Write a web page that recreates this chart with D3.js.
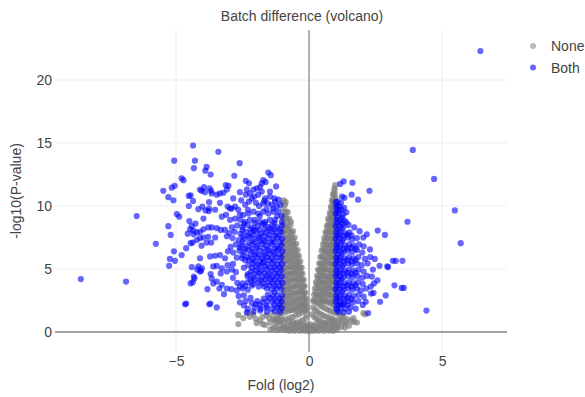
<!DOCTYPE html>
<html>
<head>
<meta charset="utf-8">
<script src="https://cdn.jsdelivr.net/npm/d3@7"></script>
<style>
  body { margin: 0; background: #fff; }
  text { font-family: "Liberation Sans", Arial, sans-serif; fill: #444; }
</style>
</head>
<body>
<div id="chart"></div>
<script>
// series names (legend order)
const categories = ["None", "Both"];
const xTicks = [-5, 0, 5];
const yTicks = [0, 5, 10, 15, 20];

// not significant: [fold (log2), -log10(p)]
const nonePoints = [
  [0.98,11.65],[0.95,11.2],[0.92,10.8],[0.99,10.6],[0.88,10.3],[0.96,10.1],[0.84,9.8],[0.93,9.7],[0.99,9.4],[0.8,9.3],
  [0.89,9.1],[0.97,8.9],[0.74,8.8],[0.83,8.6],[0.92,8.5],[0.99,8.2],[0.69,8.3],[0.78,8.1],[0.87,7.9],[0.96,7.7],
  [0.64,7.8],[0.72,7.5],[0.82,7.4],[0.91,7.2],[0.99,7.0],[0.58,7.2],[0.67,6.95],[0.76,6.8],[0.86,6.7],[0.95,6.5],
  [0.53,6.6],[0.62,6.4],[0.71,6.3],[0.8,6.1],[0.9,6.0],[0.98,5.8],[0.48,6.0],[0.57,5.8],[0.66,5.6],[0.75,5.5],
  [0.85,5.4],[0.94,5.25],[0.43,5.4],[0.52,5.2],[0.61,5.0],[0.7,4.95],[0.8,4.8],[0.89,4.7],[0.98,4.6],[0.38,4.85],
  [0.47,4.6],[0.56,4.45],[0.65,4.35],[0.75,4.2],[0.84,4.1],[0.93,4.0],[0.34,4.3],[0.42,4.05],[0.51,3.9],[0.6,3.8],
  [0.7,3.65],[0.79,3.55],[0.88,3.45],[0.97,3.35],[0.29,3.75],[0.37,3.5],[0.46,3.35],[0.55,3.2],[0.64,3.1],[0.74,3.0],
  [0.83,2.9],[0.92,2.8],[1.0,2.7],[0.24,3.15],[0.32,2.95],[0.41,2.8],[0.5,2.65],[0.59,2.5],[0.69,2.4],[0.78,2.3],
  [0.87,2.2],[0.96,2.1],[0.19,2.55],[0.27,2.35],[0.36,2.2],[0.45,2.05],[0.54,1.95],[0.64,1.85],[0.73,1.75],[0.82,1.65],
  [0.92,1.55],[1.02,1.5],[0.15,1.95],[0.23,1.75],[0.31,1.6],[0.4,1.45],[0.49,1.35],[0.58,1.25],[0.68,1.2],[0.78,1.1],
  [0.88,1.05],[0.98,0.95],[1.1,0.9],[1.22,0.8],[0.11,1.4],[0.19,1.2],[0.27,1.05],[0.36,0.95],[0.45,0.85],[0.55,0.75],
  [0.65,0.7],[0.75,0.6],[0.86,0.55],[0.97,0.5],[1.08,0.45],[1.2,0.4],[1.34,0.63],[1.15,1.3],[1.3,1.2],[1.45,1.0],
  [1.6,0.9],[1.67,1.1],[1.8,0.75],[2.04,1.5],[2.11,1.4],[1.69,0.8],[1.5,0.5],[1.35,0.35],
  [0.96,11.4],[0.9,10.95],[0.97,10.95],[0.86,10.45],[0.94,10.45],[0.82,9.95],[0.9,9.95],[0.97,9.95],[0.78,9.45],[0.86,9.45],
  [0.94,9.45],[0.72,9.0],[0.8,9.0],[0.88,9.0],[0.95,9.0],[0.67,8.45],[0.75,8.45],[0.84,8.45],[0.92,8.4],[0.62,7.95],
  [0.7,7.95],[0.79,7.95],[0.88,7.9],[0.97,7.95],[0.57,7.45],[0.66,7.45],[0.75,7.4],[0.84,7.45],[0.93,7.45],[0.52,6.95],
  [0.61,6.95],[0.7,6.9],[0.8,6.95],[0.89,6.95],[0.97,6.9],[0.47,6.45],[0.56,6.45],[0.65,6.4],[0.75,6.45],[0.84,6.45],
  [0.93,6.4],[0.42,5.95],[0.51,5.95],[0.6,5.9],[0.7,5.95],[0.79,5.95],[0.88,5.9],[0.97,5.95],[0.38,5.45],[0.47,5.45],
  [0.56,5.4],[0.65,5.45],[0.75,5.45],[0.84,5.4],[0.93,5.45],[0.34,4.95],[0.43,4.95],[0.52,4.9],[0.61,4.95],[0.71,4.95],
  [0.8,4.9],[0.9,4.95],[0.99,4.95],[0.3,4.45],[0.39,4.45],[0.48,4.4],[0.57,4.45],[0.66,4.45],[0.76,4.4],[0.85,4.45],
  [0.95,4.45],[0.26,3.95],[0.35,3.95],[0.44,3.9],[0.53,3.95],[0.62,3.95],[0.72,3.9],[0.81,3.95],[0.91,3.95],[0.99,3.9],
  [0.22,3.45],[0.31,3.45],[0.4,3.4],[0.49,3.45],[0.58,3.45],[0.68,3.4],[0.77,3.45],[0.87,3.45],[0.96,3.4],[0.19,2.95],
  [0.28,2.95],[0.37,2.9],[0.46,2.95],[0.55,2.95],[0.64,2.9],[0.74,2.95],[0.84,2.95],[0.94,2.9],[0.15,2.45],[0.24,2.45],
  [0.33,2.4],[0.42,2.45],[0.51,2.45],[0.6,2.4],[0.7,2.45],[0.8,2.45],[0.9,2.4],[1.0,2.45],
  [0.0,0.05],[0.05,0.3],[-0.05,0.3],[0.08,0.6],[-0.08,0.6],[0.12,0.2],[-0.12,0.2],[0.2,0.5],[-0.2,0.5],[0.3,0.3],
  [-0.3,0.3],[0.4,0.45],[-0.4,0.45],[0.25,0.15],[-0.25,0.15],[0.5,0.25],[-0.5,0.25],[0.6,0.35],[-0.6,0.35],[0.7,0.2],
  [-0.7,0.2],[0.85,0.3],[-0.85,0.3],[0.95,0.2],[-1.0,0.3],
  [-1.1,0.2],[-0.9,0.15],[-0.75,0.1],[-0.55,0.1],[-0.35,0.1],[-0.15,0.1],[0.15,0.1],[0.35,0.1],[0.55,0.1],[0.75,0.12],
  [0.9,0.1],[1.05,0.2],[-0.1,0.45],[0.1,0.45],[-0.3,0.6],[0.3,0.65],[-0.45,0.6],[-0.6,0.8],[-0.75,0.85],[-0.95,0.7],
  [-1.05,1.1],[-1.25,1.0],[0.45,0.55],[0.6,0.55],[0.75,0.85],[0.9,0.8],[1.1,0.65],[1.25,1.05],[1.4,0.8],[1.15,1.55],
  [-0.9,10.1],[-0.95,10.45],[-0.86,9.55],[-0.97,9.8],[-0.93,9.2],[-0.68,8.75],[-0.82,8.9],[-0.98,8.6],[-0.78,8.2],[-0.9,8.3],
  [-0.65,7.85],[-0.71,7.55],[-0.84,7.7],[-0.96,7.9],[-0.6,7.3],[-0.75,7.15],[-0.88,7.3],[-0.99,7.1],[-0.55,6.9],[-0.66,6.75],
  [-0.8,6.7],[-0.93,6.6],[-0.5,6.45],[-0.62,6.3],[-0.73,6.2],[-0.86,6.15],[-0.97,6.0],[-0.44,6.0],[-0.55,5.85],[-0.67,5.75],
  [-0.79,5.65],[-0.91,5.55],[-0.39,5.55],[-0.5,5.35],[-0.61,5.25],[-0.73,5.15],[-0.85,5.05],[-0.97,4.95],[-0.33,5.1],[-0.44,4.9],
  [-0.56,4.75],[-0.68,4.65],[-0.8,4.55],[-0.92,4.45],[-0.29,4.6],[-0.39,4.4],[-0.5,4.25],[-0.62,4.15],[-0.74,4.05],[-0.86,3.95],
  [-0.98,3.85],[-0.24,4.1],[-0.34,3.9],[-0.45,3.75],[-0.57,3.6],[-0.69,3.5],[-0.81,3.4],[-0.93,3.3],[-0.2,3.6],[-0.29,3.4],
  [-0.4,3.2],[-0.52,3.05],[-0.64,2.95],[-0.76,2.85],[-0.88,2.75],[-1.0,2.65],[-0.17,3.05],[-0.25,2.85],[-0.36,2.65],[-0.48,2.5],
  [-0.6,2.4],[-0.72,2.3],[-0.84,2.2],[-0.96,2.1],[-1.08,2.0],[-0.14,2.5],[-0.21,2.3],[-0.32,2.1],[-0.43,1.95],[-0.55,1.85],
  [-0.67,1.75],[-0.79,1.65],[-0.91,1.55],[-1.03,1.5],[-1.15,1.4],[-0.11,1.95],[-0.17,1.7],[-0.27,1.55],[-0.38,1.4],[-0.5,1.3],
  [-0.62,1.2],[-0.74,1.1],[-0.86,1.0],[-0.98,0.95],[-1.1,0.85],[-1.22,0.75],[-1.35,1.05],[-0.08,1.35],[-0.13,1.1],[-0.22,0.95],
  [-0.33,0.85],[-0.45,0.75],[-0.57,0.65],[-0.69,0.55],[-0.8,0.5],[-0.92,0.4],
  [-0.88,10.3],[-0.97,10.25],[-0.8,9.5],[-0.92,9.5],[-0.75,9.0],[-0.87,9.05],[-0.97,9.0],[-0.7,8.5],[-0.81,8.5],[-0.93,8.45],
  [-0.6,8.0],[-0.72,8.0],[-0.85,8.05],[-0.97,8.0],[-0.54,7.5],[-0.66,7.5],[-0.79,7.45],[-0.92,7.5],[-0.48,7.0],[-0.6,7.0],
  [-0.72,7.05],[-0.85,7.0],[-0.97,7.0],[-0.43,6.5],[-0.55,6.55],[-0.67,6.5],[-0.8,6.5],[-0.92,6.45],[-0.38,6.05],[-0.49,6.1],
  [-0.61,6.05],[-0.73,6.0],[-0.85,6.05],[-0.98,6.05],[-0.33,5.6],[-0.44,5.6],[-0.56,5.6],[-0.68,5.55],[-0.8,5.6],[-0.93,5.6],
  [-0.28,5.1],[-0.39,5.15],[-0.5,5.1],[-0.62,5.1],[-0.74,5.15],[-0.87,5.1],[-0.99,5.1],[-0.25,4.65],[-0.34,4.65],[-0.45,4.65],
  [-0.57,4.6],[-0.69,4.65],[-0.82,4.65],[-0.95,4.65],[-0.2,4.15],[-0.29,4.15],[-0.4,4.15],[-0.52,4.1],[-0.64,4.15],[-0.77,4.15],
  [-0.9,4.15],[-0.17,3.65],[-0.25,3.65],[-0.35,3.65],[-0.47,3.6],[-0.59,3.65],[-0.71,3.65],[-0.84,3.65],[-0.97,3.6],[-0.15,3.15],
  [-0.22,3.15],[-0.31,3.15],[-0.42,3.1],[-0.54,3.15],[-0.66,3.15],[-0.79,3.15],[-0.92,3.1],[-0.12,2.65],[-0.19,2.65],[-0.28,2.65],
  [-0.39,2.6],[-0.51,2.65],[-0.63,2.65],[-0.76,2.65],[-0.89,2.6],[-1.0,2.4],[-0.11,2.2],[-0.17,2.2],[-0.26,2.2],[-0.36,2.15],
  [-0.48,2.2],[-0.6,2.2],[-0.72,2.2],[-0.85,2.15],[-0.97,2.25],[-0.1,1.75],[-0.15,1.75],[-0.22,1.8],[-0.33,1.75],[-0.45,1.7],
  [-0.57,1.75],[-0.69,1.75],[-0.81,1.8],[-0.93,1.75],[-1.05,1.75],
  [-2.66,0.63],[-2.66,1.35],[-2.47,1.1],[-2.22,1.2],[-1.97,0.7],[-1.84,0.9],[-1.65,0.55],[-1.47,0.75],[-1.28,0.4],[-1.09,0.55],
  [-1.75,0.63],[-1.35,0.3],[-2.3,1.5],[-2.1,1.4],[-1.6,1.3],[-1.4,1.5],[-1.2,1.2],[-1.5,1.1],[-1.75,1.2],[-2.0,1.05],
  [-1.3,0.9],[-1.15,0.95],[-1.45,0.2],[-1.2,0.15]
];

// significant in both: [fold (log2), -log10(p)]
const bothPoints = [
  // left, outer
  [-8.58,4.2],[-6.88,4.0],[-6.48,9.2],[-5.76,7.0],[-5.07,13.6],[-4.36,14.8],[-4.29,13.6],[-4.33,13.0],[-3.41,14.3],[-3.85,13.1],
  [-3.9,12.8],[-3.7,12.5],[-4.79,12.2],[-4.72,12.05],[-5.48,11.2],[-5.16,11.45],[-5.05,11.6],[-5.29,10.7],[-5.1,10.45],[-4.52,10.8],
  [-4.45,10.85],[-4.36,10.4],[-4.1,11.3],[-3.95,11.5],[-3.91,11.1],[-3.74,11.4],[-3.66,11.0],[-3.47,10.9],[-3.35,11.0],[-3.22,11.05],
  [-3.09,11.3],[-3.13,11.65],[-3.76,10.3],[-3.35,10.25],[-3.53,9.7],[-3.28,9.15],[-2.97,9.8],[-4.16,9.75],[-4.01,9.95],[-3.77,9.6],
  [-3.97,9.0],[-4.52,10.0],[-4.97,9.35],[-4.88,9.15],[-4.5,8.8],[-4.41,8.4],[-4.47,8.15],[-4.35,8.05],[-4.27,8.6],[-5.29,8.4],
  [-5.2,7.7],[-4.22,7.9],[-4.1,7.95],[-3.97,8.15],[-3.79,8.3],[-3.66,8.3],[-3.47,8.25],[-3.32,8.1],[-3.16,8.1],[-4.1,7.45],
  [-3.79,7.55],[-3.53,7.5],[-3.09,7.6],[-4.56,7.8],[-4.34,7.75],[-3.85,7.1],[-3.68,7.1],[-4.04,6.85],[-4.38,7.1],[-4.22,7.3],
  [-3.97,7.5],[-5.08,6.4],[-5.23,5.8],[-5.04,5.65],[-5.26,5.25],[-4.79,6.1],[-4.62,6.65],[-4.45,7.05],[-4.1,5.85],[-4.16,5.2],
  [-4.03,5.05],[-4.1,4.8],[-4.41,5.15],[-4.31,4.25],[-4.37,3.95],[-4.45,3.85],[-4.2,4.95],[-4.06,4.85],[-4.33,4.4],[-3.72,6.0],
  [-3.53,6.05],[-3.35,6.1],[-3.16,5.85],[-3.6,5.2],[-3.47,5.25],[-3.28,5.05],[-3.32,4.65],[-3.09,4.8],[-3.66,4.25],[-3.7,4.6],
  [-3.47,4.0],[-3.6,3.85],[-3.28,3.75],[-3.09,3.45],[-3.82,3.4],[-3.37,3.45],[-3.2,3.0],[-4.66,2.2],[-4.62,2.25],[-3.75,2.2],
  [-3.71,2.25],[-3.47,1.95],[-3.89,9.65],[-3.76,9.8],[-4.04,11.2],[-3.68,11.2],
  // left, core top
  [-2.61,13.4],[-2.81,12.4],[-1.53,12.65],[-1.44,12.45],[-2.38,12.0],[-2.26,11.8],[-1.72,12.05],[-1.63,11.9],[-1.78,11.8],[-1.24,11.55],
  [-1.47,11.15],[-3.03,11.6],[-2.34,11.3],[-2.38,10.9],[-2.22,11.0],[-2.09,11.3],[-1.97,11.4],[-1.84,11.5],[-1.78,11.15],[-1.91,10.9],
  [-2.06,10.75],[-2.15,10.6],[-2.26,10.35],[-1.65,10.6],[-1.47,10.75],[-1.28,10.35],[-1.15,10.5],[-1.09,10.1],[-1.21,9.95],[-1.4,10.1],
  [-1.55,10.2],[-1.72,10.2],[-2.78,9.95],[-2.66,9.7],[-2.91,9.8],[-3.06,9.95],[-3.12,9.3],[-2.47,9.3],[-2.28,9.4],[-2.09,9.55],
  [-1.91,9.4],[-1.72,9.55],[-1.53,9.4],[-1.34,9.55],[-1.15,9.55],[-1.03,9.2],[-1.03,8.75],[-1.28,8.9],[-1.47,8.9],[-1.65,8.75],
  [-1.84,8.75],[-2.03,8.9],[-2.22,8.9],[-2.41,8.75],[-2.59,8.9],[-2.78,9.0],[-2.97,8.9],[-1.88,10.0],[-2.0,10.25],[-2.4,10.1],
  [-2.55,10.45],[-1.35,9.8],[-2.85,10.6],[-2.6,11.1],
  // left, core
  [-1.02,8.45],[-1.2,8.3],[-1.38,8.5],[-1.55,8.35],[-1.75,8.55],[-1.93,8.4],[-2.12,8.25],[-2.3,8.5],[-2.5,8.35],[-2.7,8.45],[-2.9,8.3],
  [-1.05,7.95],[-1.25,7.85],[-1.42,8.0],[-1.62,7.9],[-1.8,7.8],[-2.0,8.0],[-2.18,7.85],[-2.38,7.95],[-2.58,7.8],[-2.8,7.95],[-3.0,7.85],
  [-1.01,7.4],[-1.18,7.5],[-1.35,7.35],[-1.52,7.45],[-1.7,7.3],[-1.88,7.45],[-2.08,7.35],[-2.26,7.5],[-2.45,7.4],[-2.65,7.3],[-2.88,7.45],
  [-1.03,6.9],[-1.22,6.8],[-1.4,6.95],[-1.6,6.85],[-1.78,7.0],[-1.96,6.85],[-2.15,6.95],[-2.35,6.8],[-2.55,6.9],[-2.75,6.95],[-2.95,6.75],
  [-1.0,6.4],[-1.16,6.5],[-1.33,6.35],[-1.5,6.45],[-1.68,6.3],[-1.86,6.45],[-2.05,6.35],[-2.25,6.5],[-2.44,6.35],[-2.62,6.45],[-2.85,6.3],[-3.05,6.4],
  [-1.04,5.9],[-1.23,5.95],[-1.41,5.85],[-1.58,5.95],[-1.76,5.85],[-1.95,5.95],[-2.13,5.8],[-2.32,5.95],[-2.52,5.85],[-2.72,5.9],
  [-1.01,5.4],[-1.19,5.35],[-1.36,5.45],[-1.54,5.35],[-1.72,5.5],[-1.9,5.35],[-2.1,5.45],[-2.28,5.3],[-2.86,5.4],[-3.06,5.3],
  [-1.05,4.9],[-1.24,4.95],[-1.42,4.85],[-1.6,4.95],[-1.8,4.85],[-1.98,4.9],[-2.18,4.8],[-2.9,4.95],[-2.75,4.75],
  [-1.02,4.4],[-1.2,4.45],[-1.38,4.35],[-1.57,4.45],[-1.75,4.35],[-1.93,4.45],[-2.12,4.3],[-2.32,4.45],[-2.86,4.3],
  [-1.0,3.9],[-1.17,3.95],[-1.35,3.85],[-1.53,3.95],[-1.72,3.85],[-1.9,3.95],[-2.1,3.8],[-2.3,3.95],[-2.5,3.85],[-2.7,3.9],
  [-1.04,3.4],[-1.22,3.45],[-1.4,3.35],[-1.58,3.45],[-2.3,3.35],[-2.5,3.45],[-2.72,3.3],[-2.92,3.4],
  [-1.01,2.9],[-1.18,2.95],[-1.36,2.85],[-1.55,2.95],[-2.45,2.9],[-2.65,2.85],
  [-1.03,2.4],[-1.2,2.45],[-1.38,2.35],[-1.56,2.45],[-1.75,2.35],[-1.95,2.45],[-2.15,2.3],[-2.38,2.45],[-2.6,2.35],
  [-1.02,1.9],[-1.2,1.95],[-1.4,1.85],[-1.6,1.95],[-1.82,1.85],[-2.05,1.95],[-2.3,1.85],
  [-1.09,1.6],[-1.28,1.65],[-1.59,1.6],[-1.84,1.7],[-2.09,1.6],[-2.34,1.55],
  [-1.1,8.15],[-1.45,8.2],[-1.85,8.1],[-2.2,8.15],[-1.12,7.65],[-1.5,7.7],[-1.9,7.6],[-2.3,7.65],
  [-1.1,7.15],[-1.45,7.1],[-1.85,7.2],[-2.25,7.1],[-1.13,6.65],[-1.55,6.6],[-1.95,6.7],[-2.4,6.6],
  [-1.1,6.15],[-1.48,6.2],[-1.88,6.1],[-2.2,6.15],[-1.12,5.65],[-1.5,5.7],[-1.85,5.6],[-2.25,5.7],
  [-1.1,5.15],[-1.45,5.1],[-1.82,5.2],[-2.15,5.1],[-1.13,4.65],[-1.5,4.6],[-1.88,4.7],[-2.3,4.6],
  [-1.1,4.15],[-1.45,4.2],[-1.82,4.1],[-2.2,4.15],[-1.12,3.65],[-1.5,3.7],[-1.9,3.6],[-2.4,3.65],
  [-1.1,2.65],[-1.48,2.7],[-1.3,3.15],[-1.12,2.15],[-1.6,2.1],[-2.0,2.2],
  [-1.3,8.65],[-1.68,8.6],[-2.05,8.65],[-2.45,8.6],[-1.3,7.65],[-1.7,7.62],[-2.1,7.68],[-2.5,7.6],
  [-1.3,6.6],[-1.72,6.65],[-2.15,6.6],[-2.6,6.7],[-1.32,5.65],[-1.7,5.65],[-2.05,5.62],[-2.4,5.7],
  [-1.28,4.65],[-1.68,4.68],[-2.08,4.62],[-1.3,3.65],[-1.7,3.62],[-2.15,3.68],[-2.6,3.6],
  [-1.3,2.62],[-1.7,2.65],[-2.2,2.7],[-1.3,2.15],[-1.85,2.15],[-2.45,2.1],
  [-1.3,10.6],[-1.68,10.4],[-2.3,9.7],[-1.6,9.75],[-1.2,9.2],[-1.85,9.2],[-2.6,9.3],
  [-1.3,4.15],[-1.65,4.2],[-2.05,4.15],[-1.3,5.15],[-1.65,5.2],[-2.0,5.15],[-2.45,5.1],
  [-1.3,6.15],[-1.68,6.1],[-2.05,6.15],[-2.5,6.1],[-1.3,7.15],[-1.65,7.15],[-2.05,7.15],[-2.5,7.15],
  [-1.3,8.15],[-1.65,8.15],[-2.05,8.1],[-2.5,8.1],
  // right, outer
  [6.44,22.3],[3.9,14.45],[4.7,12.15],[5.48,9.65],[5.7,7.05],[3.7,8.75],[4.41,1.7],[3.21,3.7],[3.48,3.5],[3.56,3.5],
  [3.15,5.65],[3.26,5.65],[3.51,5.65],[2.97,5.15],[2.58,8.05],[2.85,7.7],[2.27,11.2],[1.63,11.85],[1.3,11.95],[1.17,11.75],
  [1.6,10.9],[1.84,10.5],[1.24,10.75],[1.33,10.65],[2.88,2.9],[2.67,2.4],[2.47,5.8],[2.65,5.25],[2.17,7.75],[2.04,7.5],
  [2.29,6.55],[2.57,4.1],[2.44,3.85],[2.36,4.4],[2.32,3.6],[2.42,3.1],[2.22,1.5],[2.33,3.05],[2.13,2.4],[2.02,2.15],
  [2.94,5.2],
  // right, core
  [1.0,10.3],[1.08,10.35],[1.2,10.25],[1.02,9.9],[1.15,9.95],[1.32,9.85],[1.0,9.4],[1.12,9.45],[1.28,9.35],[1.4,9.5],
  [1.03,8.9],[1.18,8.95],[1.33,8.85],[1.0,8.4],[1.14,8.45],[1.3,8.35],[1.48,8.5],[1.7,8.3],
  [1.02,7.9],[1.17,7.95],[1.35,7.85],[1.52,7.9],[1.9,8.0],[1.0,7.4],[1.13,7.45],[1.28,7.35],[1.45,7.5],[1.62,7.35],[1.8,7.45],
  [1.03,6.9],[1.18,6.95],[1.34,6.85],[1.5,6.95],[1.68,6.85],[1.88,6.95],[2.05,6.8],
  [1.0,6.4],[1.14,6.45],[1.3,6.35],[1.46,6.45],[1.63,6.35],[1.8,6.5],[2.0,6.3],
  [1.02,5.9],[1.17,5.95],[1.33,5.85],[1.5,5.95],[1.67,5.85],[1.85,5.95],[2.1,5.8],[2.3,5.95],
  [1.0,5.4],[1.14,5.45],[1.3,5.35],[1.46,5.45],[1.62,5.35],[1.8,5.45],[1.98,5.3],[2.2,5.45],
  [1.03,4.9],[1.18,4.95],[1.34,4.85],[1.5,4.95],[1.68,4.85],[1.86,4.95],[2.05,4.8],[2.4,4.95],
  [1.0,4.4],[1.15,4.45],[1.3,4.35],[1.47,4.45],[1.64,4.35],[1.82,4.45],[2.0,4.3],[2.18,4.45],
  [1.02,3.9],[1.17,3.95],[1.33,3.85],[1.5,3.95],[1.66,3.85],[1.84,3.95],[2.02,3.8],
  [1.0,3.4],[1.14,3.45],[1.3,3.35],[1.46,3.45],[1.63,3.35],[1.8,3.45],[1.95,3.3],[2.15,3.45],
  [1.03,2.9],[1.18,2.95],[1.34,2.85],[1.5,2.95],[1.68,2.85],[1.86,2.95],[2.05,2.8],
  [1.0,2.4],[1.15,2.45],[1.31,2.35],[1.48,2.45],[1.66,2.35],[1.85,2.45],
  [1.02,1.9],[1.18,1.95],[1.35,1.85],[1.55,1.95],[1.75,1.85],[1.1,1.6],[1.3,1.55],[1.5,1.6],
  [1.06,10.05],[1.05,9.6],[1.07,9.15],[1.04,8.65],[1.08,8.15],[1.05,7.65],[1.06,7.15],[1.04,6.65],[1.07,6.15],
  [1.05,5.65],[1.06,5.15],[1.04,4.65],[1.08,4.15],[1.05,3.65],[1.06,3.15],[1.04,2.65],[1.07,2.15],[1.05,1.75],
  [1.25,9.1],[1.22,8.2],[1.24,7.2],[1.22,6.2],[1.25,5.2],[1.22,4.2],[1.24,3.2],[1.22,2.2],
  [1.12,9.7],[1.22,9.7],[1.15,8.7],[1.25,8.6],[1.4,8.7],[1.14,7.7],[1.3,7.65],[1.45,7.7],[1.6,7.65],
  [1.14,6.7],[1.3,6.6],[1.45,6.65],[1.6,6.7],[1.75,6.6],[1.14,5.7],[1.3,5.65],[1.45,5.7],[1.6,5.6],[1.75,5.7],
  [1.14,4.7],[1.3,4.65],[1.45,4.7],[1.6,4.6],[1.75,4.7],[1.14,3.7],[1.3,3.65],[1.45,3.7],[1.6,3.6],[1.75,3.7],
  [1.14,2.7],[1.3,2.65],[1.45,2.7],[1.6,2.6],[1.14,2.15],[1.3,2.2],[1.45,2.15]
];

const width = 585;
const height = 397;
const margin = { top: 30, right: 78, bottom: 45, left: 55 };

const x = d3.scaleLinear()
    .domain([-9.55, 7.44])
    .range([margin.left, width - margin.right]);
const y = d3.scaleLinear()
    .domain([-1.59, 23.97])
    .range([height - margin.bottom, margin.top]);

const svg = d3.select("#chart").append("svg")
    .attr("width", width)
    .attr("height", height);

// grid
svg.append("g")
    .selectAll("line")
    .data(xTicks.filter(d => d !== 0))
    .join("line")
    .attr("x1", d => x(d)).attr("x2", d => x(d))
    .attr("y1", margin.top).attr("y2", height - margin.bottom)
    .attr("stroke", "#eee");
svg.append("g")
    .selectAll("line")
    .data(yTicks.filter(d => d !== 0))
    .join("line")
    .attr("x1", margin.left).attr("x2", width - margin.right)
    .attr("y1", d => y(d)).attr("y2", d => y(d))
    .attr("stroke", "#eee");

// zero lines
svg.append("line")
    .attr("x1", x(0)).attr("x2", x(0))
    .attr("y1", margin.top).attr("y2", height - margin.bottom)
    .attr("stroke", "#999").attr("stroke-width", 1.5);
svg.append("line")
    .attr("x1", margin.left).attr("x2", width - margin.right)
    .attr("y1", y(0)).attr("y2", y(0))
    .attr("stroke", "#444").attr("stroke-width", 1);

// axes (labels only)
const xAxis = svg.append("g")
    .attr("transform", `translate(0,${height - margin.bottom})`)
    .call(d3.axisBottom(x).tickValues(xTicks).tickSize(0).tickPadding(4));
const yAxis = svg.append("g")
    .attr("transform", `translate(${margin.left},0)`)
    .call(d3.axisLeft(y).tickValues(yTicks).tickSize(0).tickPadding(3));
[xAxis, yAxis].forEach(g => {
    g.select(".domain").remove();
    g.selectAll("text")
        .style("font-family", '"Liberation Sans", Arial, sans-serif')
        .style("font-size", "14px")
        .attr("fill", "#444");
});

// points
const colors = { None: "rgba(128,128,128,0.7)", Both: "rgba(0,0,255,0.6)" };
svg.append("g")
    .selectAll("circle")
    .data(nonePoints)
    .join("circle")
    .attr("cx", d => x(d[0]))
    .attr("cy", d => y(d[1]))
    .attr("r", 3.1)
    .attr("fill", colors.None);
svg.append("g")
    .selectAll("circle")
    .data(bothPoints)
    .join("circle")
    .attr("cx", d => x(d[0]))
    .attr("cy", d => y(d[1]))
    .attr("r", 3.1)
    .attr("fill", colors.Both);

// titles
svg.append("text")
    .attr("x", 302).attr("y", 21)
    .attr("text-anchor", "middle")
    .style("font-size", "14px")
    .text("Batch difference (volcano)");
svg.append("text")
    .attr("x", (margin.left + width - margin.right) / 2).attr("y", 390)
    .attr("text-anchor", "middle")
    .style("font-size", "14px")
    .text("Fold (log2)");
svg.append("text")
    .attr("transform", `translate(21,${(margin.top + height - margin.bottom) / 2}) rotate(-90)`)
    .attr("text-anchor", "middle")
    .style("font-size", "14px")
    .text("-log10(P-value)");

// legend
const legend = svg.append("g")
    .selectAll("g")
    .data(categories)
    .join("g")
    .attr("transform", (d, i) => `translate(533,${46 + i * 21.5})`);
legend.append("circle")
    .attr("r", 3)
    .attr("fill", d => d === "None" ? "rgba(128,128,128,0.55)" : colors.Both);
legend.append("text")
    .attr("x", 18).attr("y", 5)
    .style("font-size", "14px")
    .text(d => d);
</script>
</body>
</html>
